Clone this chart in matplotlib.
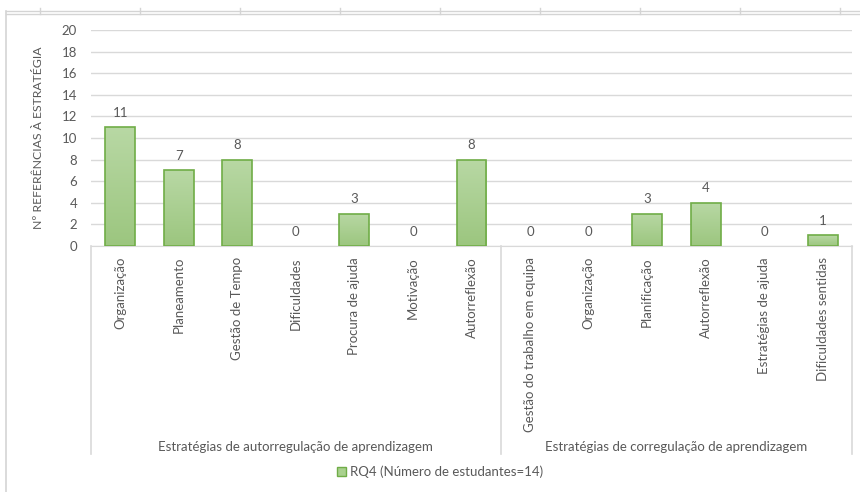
import numpy as np
import matplotlib.pyplot as plt
from matplotlib.lines import Line2D
from matplotlib.colors import LinearSegmentedColormap

plt.rcParams['font.family'] = ['Lato', 'DejaVu Sans']

# strategy counts per group
grupos = ['Estratégias de autorregulação de aprendizagem',
          'Estratégias de corregulação de aprendizagem']
auto_cats = ['Organização', 'Planeamento', 'Gestão de Tempo', 'Dificuldades',
             'Procura de ajuda', 'Motivação', 'Autorreflexão']
auto_vals = [11, 7, 8, 0, 3, 0, 8]
corr_cats = ['Gestão do trabalho em equipa', 'Organização', 'Planificação',
             'Autorreflexão', 'Estratégias de ajuda', 'Dificuldades sentidas']
corr_vals = [0, 0, 3, 4, 0, 1]
serie = 'RQ4 (Número de estudantes=14)'

cats = auto_cats + corr_cats
vals = auto_vals + corr_vals
x = np.arange(len(cats))

txt = '#595959'
grid = '#d9d9d9'
edge = '#70ad47'

fig = plt.figure(figsize=(8.6, 4.92), dpi=100)
ax = fig.add_axes([91/860, 1 - 246/492, (852 - 91)/860, 216/492])

bars = ax.bar(x, vals, width=0.51, color='#a9d18e', linewidth=0, zorder=3,
              label=serie)

# soft vertical gradient inside each bar, outline drawn on top
cmap = LinearSegmentedColormap.from_list('g', ['#9cc67f', '#b8d8a4'])
grad = np.linspace(0, 1, 100).reshape(-1, 1)
for b in bars:
    if b.get_height() <= 0:
        continue
    x0, y0 = b.get_x(), b.get_y()
    im = ax.imshow(grad, extent=[x0, x0 + b.get_width(), y0, y0 + b.get_height()],
                   aspect='auto', cmap=cmap, origin='lower', zorder=3.1)
    im.set_clip_path(b)
    ax.add_patch(plt.Rectangle((x0, y0), b.get_width(), b.get_height(), fill=False,
                               edgecolor=edge, linewidth=1.2, zorder=3.2))

for xi, v in zip(x, vals):
    ax.annotate(str(v), (xi, v), xytext=(0, 6), textcoords='offset points',
                ha='center', va='bottom', color=txt, fontsize=9.5)

ax.set_xlim(-0.5, len(cats) - 0.5)
ax.set_ylim(0, 20)
ax.set_yticks(range(0, 21, 2))
ax.yaxis.grid(True, color=grid, linewidth=1, zorder=0)
ax.set_axisbelow(True)
for s in ['top', 'right', 'left']:
    ax.spines[s].set_visible(False)
ax.spines['bottom'].set_color(grid)
ax.tick_params(axis='both', length=0, colors=txt, labelsize=9.5)
ax.tick_params(axis='y', pad=10)
ax.set_xticks(x)
ax.set_xticklabels(cats, rotation=90, va='top', ha='center')
ax.tick_params(axis='x', pad=8)
ax.set_ylabel('Nº REFERÊNCIAS À ESTRATÉGIA', color=txt, fontsize=8.8, labelpad=13)

# group separators and group names below the category labels
tr = ax.get_xaxis_transform()
n1 = len(auto_cats)
for xs in [-0.5, n1 - 0.5, len(cats) - 0.5]:
    ax.plot([xs, xs], [0, -0.965], transform=tr, color=grid, lw=1.2, clip_on=False)
ax.text((n1 - 1) / 2, -0.93, grupos[0], transform=tr, ha='center', va='center',
        color=txt, fontsize=9.5)
ax.text(n1 + (len(corr_cats) - 1) / 2, -0.93, grupos[1], transform=tr, ha='center',
        va='center', color=txt, fontsize=9.5)

leg = fig.legend(handles=[plt.Rectangle((0, 0), 1, 1, facecolor='#a9d18e',
                                        edgecolor=edge)],
                 labels=[serie], loc='center', bbox_to_anchor=(440/860, 1 - 472/492),
                 frameon=False, fontsize=9.5, handlelength=0.7, handleheight=0.7,
                 handletextpad=0.3)
for t in leg.get_texts():
    t.set_color(txt)

# sheet frame around the chart
fc = '#d4d4d4'
fig.add_artist(Line2D([6/860, 1], [1 - 10.5/492] * 2, color=fc, lw=1))
fig.add_artist(Line2D([6/860, 1], [1 - 13.5/492] * 2, color=fc, lw=1))
fig.add_artist(Line2D([6/860] * 2, [0, 1 - 10.5/492], color=fc, lw=1.2))
for px in range(40, 860, 100):
    fig.add_artist(Line2D([px/860] * 2, [1 - 8/492, 1 - 14/492], color=fc, lw=1))

fig.savefig('out.png', dpi=100)
